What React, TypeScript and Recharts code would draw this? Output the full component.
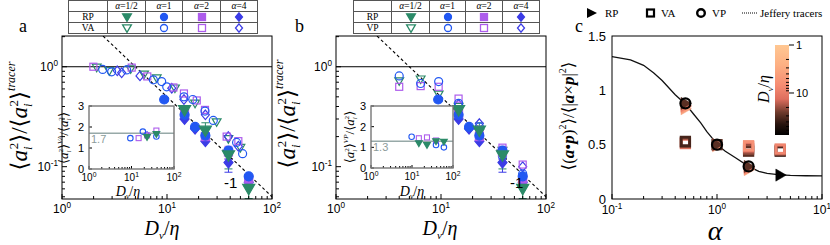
import React from 'react';
import { ScatterChart, Scatter, XAxis, YAxis, ReferenceLine, ReferenceArea, ErrorBar } from 'recharts';

const SANS = "'Liberation Sans', Arial, Helvetica, sans-serif";
const SERIF = "'Liberation Serif', 'Times New Roman', 'DejaVu Serif', serif";

const GREEN = '#2b8a68';
const BLUE = '#2258f2';
const PURPLE = '#ad5cec';
const VIOLET = '#3c3ce6';

// ---------- axes ----------
const MAIN_X_TICKS = [1, 2, 3, 4, 5, 6, 7, 8, 9, 10, 20, 30, 40, 50, 60, 70, 80, 90, 100];
const MAIN_Y_TICKS = [0.05, 0.06, 0.07, 0.08, 0.09, 0.1, 0.2, 0.3, 0.4, 0.5, 0.6, 0.7, 0.8, 0.9, 1, 2];
const MAIN_Y_DOMAIN = [0.0475, 2.03];
const INSET_Y_TICKS = [0, 1, 2, 3];
const C_X_TICKS = [0.1, 0.2, 0.3, 0.4, 0.5, 0.6, 0.7, 0.8, 0.9, 1, 2, 3, 4, 5, 6, 7, 8, 9, 10];
const C_Y_TICKS = [0, 0.5, 1, 1.5];
const CB_TICKS = [1, 2, 3, 4, 5, 6, 7, 8, 9, 10, 20, 30, 40, 50, 60, 70];

// ---------- guide line slope -1 ----------
const GUIDE_X = [2.46, 100];
const GUIDE_Y = [2.03, 0.05];

// ---------- RP (filled) ----------
const RP_D = [9.4, 14.7, 18.5, 23.2, 38.5, 60];
const RP_HALF = [null, 0.37, null, 0.23, 0.13, 0.06];
const RP_HALF_ERR_LO = [0, 0.03, 0, 0.025, 0.035, 0.012];
const RP_HALF_ERR_HI = [0, 0.03, 0, 0.045, 0.02, 0.012];
const RP_ONE = [0.47, 0.33, 0.25, 0.205, 0.145, 0.08];
const RP_TWO = [null, 0.34, null, 0.2, 0.14, 0.075];
const RP_TWO_ERR = [0, 0, 0, 0, 0.02, 0];
const RP_FOUR = [null, 0.3, 0.24, 0.18, 0.11, 0.07];
const RP_FOUR_ERR = [0, 0, 0, 0, 0.022, 0];

// ---------- VA (open, panel a) ----------
const VA_HALF_D = [2.14, 2.82, 4.51, 6.04, 7.98, 11.9, 18.5, 29.7, 38.4, 50];
const VA_HALF = [0.985, 0.91, 0.95, 0.84, 0.77, 0.61, 0.43, 0.28, 0.19, 0.155];
const VA_ONE_D = [2.44, 2.97, 4.13, 7.41, 8.9, 9.94, 14.5, 17.6, 23, 27.6, 46, 52.5];
const VA_ONE = [0.94, 0.89, 0.93, 0.74, 0.71, 0.63, 0.5, 0.47, 0.36, 0.29, 0.175, 0.135];
const VA_TWO_D = [1.99, 4.61, 6.49, 11.5, 14.5, 19.2, 23, 37, 47.8];
const VA_TWO = [1.0, 0.98, 0.8, 0.62, 0.54, 0.46, 0.37, 0.2, 0.18];
const VA_FOUR_D = [3.36, 3.7, 5.53, 11.1, 14.5, 23.2, 38.4, 47.8];
const VA_FOUR = [0.91, 0.87, 0.81, 0.61, 0.47, 0.33, 0.2, 0.16];

// ---------- VP (open, panel b) ----------
const VP_D = [4.0, 6.4, 9.5, 14.7, 23.2, 38.5, 60];
const VP_HALF = [0.72, 0.75, 0.53, 0.4, 0.22, 0.145, null];
const VP_ONE = [0.81, 0.68, 0.71, 0.43, 0.25, 0.128, 0.085];
const VP_TWO = [0.63, 0.64, 0.63, 0.48, 0.235, 0.155, 0.105];
const VP_FOUR = [null, null, null, 0.42, 0.27, null, 0.1];

// ---------- insets ----------
const INA_ONE_D = [9.4, 18.5, 38.5];
const INA_ONE = [1.47, 1.78, 1.55];
const INA_TWO_D = [14.7, 23.2, 38.5];
const INA_TWO = [1.47, 1.6, 1.83];
const INA_HALF_D = [23.2, 38.5];
const INA_HALF = [1.52, 1.67];
const INA_FOUR_D = [23.2];
const INA_FOUR = [1.65];
const INA_REF = 1.7;

const INB_ONE_D = [9.8, 38.5, 60];
const INB_ONE = [1.51, 1.11, 1.0];
const INB_TWO_D = [14.7, 23.2, 38.5];
const INB_TWO = [1.44, 1.48, 1.33];
const INB_HALF_D = [14.7, 23.2, 38.5, 60];
const INB_HALF = [1.2, 1.11, 1.3, 1.27];
const INB_REF = 1.3;

// ---------- panel c ----------
const JEF_ALPHA = [0.1, 0.15, 0.2, 0.25, 0.3, 0.4, 0.5, 0.6, 0.7, 0.8, 0.9, 1, 1.2, 1.5, 2, 2.5, 3, 4, 5, 7, 10];
const JEF_VAL = [1.31, 1.28, 1.23, 1.16, 1.09, 0.96, 0.875, 0.78, 0.7, 0.62, 0.56, 0.5, 0.44, 0.38, 0.3, 0.255, 0.235, 0.222, 0.217, 0.214, 0.212];

const C_RP_ALPHA = [0.5, 0.5, 0.5, 0.5, 1, 1, 1, 2, 2, 2, 2, 4];
const C_RP_VAL = [0.83, 0.85, 0.86, 0.88, 0.49, 0.5, 0.5, 0.27, 0.28, 0.29, 0.3, 0.22];
const C_RP_D = [4, 6, 10, 30, 4, 8, 30, 4, 6, 12, 30, 75];

const C_VA_ALPHA = [0.5, 0.5, 0.5, 1, 2, 2, 2, 2, 4, 4, 4];
const C_VA_VAL = [0.51, 0.52, 0.53, 0.5, 0.44, 0.46, 0.48, 0.49, 0.44, 0.45, 0.46];
const C_VA_D = [10, 22, 35, 30, 30, 20, 12, 6, 40, 20, 8];

const C_VP_ALPHA = [0.5, 1, 2];
const C_VP_VAL = [0.88, 0.5, 0.3];
const C_VP_D = [75, 75, 75];

const CB_DOMAIN = [1, 75];
const CMAP_STOPS: [number, string][] = [
  [0, '#ffc792'],
  [0.22, '#fdb083'],
  [0.45, '#f58b72'],
  [0.6, '#de6e5e'],
  [0.75, '#6e3a2c'],
  [0.88, '#28140e'],
  [1, '#000000'],
];

// ---------- helpers ----------
function hex(c: string) {
  return [1, 3, 5].map((i) => parseInt(c.slice(i, i + 2), 16));
}
function cmap(D: number) {
  let t = Math.log10(D) / Math.log10(CB_DOMAIN[1]);
  t = Math.max(0, Math.min(1, t));
  for (let i = 0; i < CMAP_STOPS.length - 1; i++) {
    const [t0, c0] = CMAP_STOPS[i];
    const [t1, c1] = CMAP_STOPS[i + 1];
    if (t <= t1) {
      const f = (t - t0) / (t1 - t0);
      const a = hex(c0);
      const b = hex(c1);
      const m = a.map((v, k) => Math.round(v + (b[k] - v) * f));
      return `rgb(${m[0]},${m[1]},${m[2]})`;
    }
  }
  return '#000';
}

function pts(xs: number[], ys: (number | null)[], extra?: (i: number) => any) {
  const out: any[] = [];
  xs.forEach((x, i) => {
    const y = ys[i];
    if (y == null) return;
    out.push({ x, y, ...(extra ? extra(i) : {}) });
  });
  return out;
}

const noShape = () => <g />;

function mk(kind: string, color: string, filled: boolean, size: number, sw = 1.2) {
  return (p: any) => {
    const cx = p.cx;
    const cy = p.cy;
    if (typeof cx !== 'number' || typeof cy !== 'number' || isNaN(cx) || isNaN(cy)) return <g />;
    const c = (p.payload && p.payload.col) || color;
    const s = size / 2;
    const st = { fill: filled ? c : 'none', stroke: c, strokeWidth: sw };
    if (kind === 'circ') return <circle cx={cx} cy={cy} r={s} {...st} />;
    if (kind === 'sq') return <rect x={cx - s} y={cy - s} width={2 * s} height={2 * s} {...st} />;
    if (kind === 'dia')
      return <polygon points={`${cx},${cy - s * 1.2} ${cx + s},${cy} ${cx},${cy + s * 1.2} ${cx - s},${cy}`} {...st} />;
    if (kind === 'tri')
      return <polygon points={`${cx - s * 1.1},${cy - s * 0.8} ${cx + s * 1.1},${cy - s * 0.8} ${cx},${cy + s * 1.1}`} {...st} />;
    return <polygon points={`${cx - s * 0.8},${cy - s * 1.1} ${cx + s * 1.1},${cy} ${cx - s * 0.8},${cy + s * 1.1}`} {...st} />;
  };
}

function isDec(v: number) {
  const l = Math.log10(v);
  return Math.abs(l - Math.round(l)) < 1e-9;
}

const logBottom = (fs: number, maj: number, mn: number, dyl: number) => (p: any) => {
  const { x, y, payload } = p;
  const v = payload.value;
  const d = isDec(v);
  const e = Math.round(Math.log10(v));
  return (
    <g>
      <line x1={x} x2={x} y1={y} y2={y - (d ? maj : mn)} stroke="#000" strokeWidth={1} />
      {d && (
        <text x={x} y={y + dyl} textAnchor="middle" fontFamily={SANS} fontSize={fs} fill="#000">
          10
          <tspan fontSize={fs * 0.68} dy={-fs * 0.42}>
            {e}
          </tspan>
        </text>
      )}
    </g>
  );
};

const logLeft = (fs: number, maj: number, mn: number) => (p: any) => {
  const { x, y, payload } = p;
  const v = payload.value;
  const d = isDec(v);
  const e = Math.round(Math.log10(v));
  return (
    <g>
      <line x1={x} x2={x + (d ? maj : mn)} y1={y} y2={y} stroke="#000" strokeWidth={1} />
      {d && (
        <text x={x - 4} y={y + fs * 0.36} textAnchor="end" fontFamily={SANS} fontSize={fs} fill="#000">
          10
          <tspan fontSize={fs * 0.68} dy={-fs * 0.42}>
            {e}
          </tspan>
        </text>
      )}
    </g>
  );
};

const linLeft = (fs: number, len: number, gap: number) => (p: any) => {
  const { x, y, payload } = p;
  return (
    <g>
      <line x1={x} x2={x + len} y1={y} y2={y} stroke="#000" strokeWidth={1} />
      <text x={x - gap} y={y + fs * 0.36} textAnchor="end" fontFamily={SANS} fontSize={fs} fill="#000">
        {String(payload.value)}
      </text>
    </g>
  );
};

const cbTick = (p: any) => {
  const { x, y, payload } = p;
  const v = payload.value;
  const major = v === 1 || v === 10;
  return (
    <g>
      <line x1={x - (major ? 0 : 3)} x2={x + (major ? 5 : 0)} y1={y} y2={y} stroke="#000" strokeWidth={1} />
      {major && (
        <text x={x + 7} y={y + 4} fontFamily={SANS} fontSize={11} fill="#000">
          {v}
        </text>
      )}
    </g>
  );
};

// ---------- boxes ----------
const BOX_A = [62, 36, 272, 199];
const BOX_B = [336, 36, 546, 199];
const BOX_C = [612, 36, 822, 199];
const INSET_A = [89, 106, 174, 169];
const INSET_B = [371, 106, 453, 168];

function MainPanel({ box, series }: any) {
  const [x0, y0, x1, y1] = box;
  const YW = 50;
  const XH = 30;
  const MT = 10;
  const MR = 22;
  const guide = pts(GUIDE_X, GUIDE_Y);
  return (
    <div style={{ position: 'absolute', left: x0 - YW, top: y0 - MT }}>
      <ScatterChart width={x1 - x0 + YW + MR} height={y1 - y0 + MT + XH} margin={{ top: MT, right: MR, bottom: 0, left: 0 }}>
        <XAxis type="number" dataKey="x" scale="log" domain={[1, 100]} allowDataOverflow ticks={MAIN_X_TICKS} interval={0}
          tickSize={0} tickMargin={0} axisLine={false} tickLine={false} tick={logBottom(12, 5, 3, 14)} height={XH} />
        <YAxis type="number" dataKey="y" scale="log" domain={MAIN_Y_DOMAIN} allowDataOverflow ticks={MAIN_Y_TICKS} interval={0}
          tickSize={0} tickMargin={0} axisLine={false} tickLine={false} tick={logLeft(12, 5, 3)} width={YW} />
        <ReferenceLine y={1} stroke="#000" strokeWidth={1} />
        <Scatter data={guide} line={{ stroke: '#000', strokeWidth: 1.1, strokeDasharray: '3 2.5' }} shape={noShape} isAnimationActive={false} />
        {series.map((s: any, i: number) => (
          <Scatter key={i} data={s.data} shape={s.shape} isAnimationActive={false}>
            {s.err ? <ErrorBar dataKey="e" direction="y" width={4} stroke={s.err} strokeWidth={1} /> : null}
          </Scatter>
        ))}
      </ScatterChart>
    </div>
  );
}

function InsetPanel({ box, series, refY }: any) {
  const [x0, y0, x1, y1] = box;
  const YW = 18;
  const XH = 24;
  const MT = 8;
  const MR = 12;
  return (
    <>
      <div style={{ position: 'absolute', left: x0, top: y0, width: x1 - x0, height: y1 - y0, background: '#fff' }} />
      <div style={{ position: 'absolute', left: x0 - YW, top: y0 - MT }}>
        <ScatterChart width={x1 - x0 + YW + MR} height={y1 - y0 + MT + XH} margin={{ top: MT, right: MR, bottom: 0, left: 0 }}>
          <XAxis type="number" dataKey="x" scale="log" domain={[1, 100]} allowDataOverflow ticks={MAIN_X_TICKS} interval={0}
            tickSize={0} tickMargin={0} axisLine={false} tickLine={false} tick={logBottom(10, 3, 2, 12)} height={XH} />
          <YAxis type="number" dataKey="y" domain={[0, 3]} allowDataOverflow ticks={INSET_Y_TICKS} interval={0}
            tickSize={0} tickMargin={0} axisLine={false} tickLine={false} tick={linLeft(11, 3, 5)} width={YW} />
          <ReferenceLine y={refY} stroke="#97a9a8" strokeWidth={1.5}
            label={{ value: String(refY), position: 'insideTopLeft', fill: '#8c9c9b', fontSize: 11, fontFamily: SANS, offset: 2 }} />
          {series.map((s: any, i: number) => (
            <Scatter key={i} data={s.data} shape={s.shape} isAnimationActive={false} />
          ))}
        </ScatterChart>
      </div>
    </>
  );
}

function PanelC() {
  const [x0, y0, x1, y1] = BOX_C;
  const YW = 50;
  const XH = 30;
  const MT = 10;
  const MR = 22;
  const jef = pts(JEF_ALPHA, JEF_VAL);
  const rp = pts(C_RP_ALPHA, C_RP_VAL, (i) => ({ col: cmap(C_RP_D[i]) }));
  const va = pts(C_VA_ALPHA, C_VA_VAL, (i) => ({ col: cmap(C_VA_D[i]) }));
  const vp = pts(C_VP_ALPHA, C_VP_VAL, (i) => ({ col: cmap(C_VP_D[i]) }));
  return (
    <div style={{ position: 'absolute', left: x0 - YW, top: y0 - MT }}>
      <ScatterChart width={x1 - x0 + YW + MR} height={y1 - y0 + MT + XH} margin={{ top: MT, right: MR, bottom: 0, left: 0 }}>
        <XAxis type="number" dataKey="x" scale="log" domain={[0.1, 10]} allowDataOverflow ticks={C_X_TICKS} interval={0}
          tickSize={0} tickMargin={0} axisLine={false} tickLine={false} tick={logBottom(12, 5, 3, 15)} height={XH} />
        <YAxis type="number" dataKey="y" domain={[0, 1.5]} allowDataOverflow ticks={C_Y_TICKS} interval={0}
          tickSize={0} tickMargin={0} axisLine={false} tickLine={false} tick={linLeft(13, 0, 6)} width={YW} />
        <Scatter data={jef} line={{ stroke: '#111', strokeWidth: 1.3 }} shape={noShape} isAnimationActive={false} />
        <Scatter data={va} shape={mk('sq', '#000', false, 8.5, 2.8)} isAnimationActive={false} />
        <Scatter data={rp} shape={mk('rtri', '#000', true, 11, 0.5)} isAnimationActive={false} />
        <Scatter data={vp} shape={mk('circ', '#000', false, 10, 2.2)} isAnimationActive={false} />
      </ScatterChart>
    </div>
  );
}

function ColorBar() {
  const x0 = 775;
  const x1 = 789;
  const y0 = 45;
  const y1 = 135;
  const MT = 8;
  const stops = CMAP_STOPS;
  return (
    <div style={{ position: 'absolute', left: x0, top: y0 - MT }}>
      <ScatterChart width={x1 - x0 + 30} height={y1 - y0 + MT + 8} margin={{ top: MT, right: 0, bottom: 8, left: 0 }}>
        <defs>
          <linearGradient id="cbgrad" x1="0" y1="0" x2="0" y2="1">
            {stops.map(([t, c], i) => (
              <stop key={i} offset={t} stopColor={c} />
            ))}
          </linearGradient>
        </defs>
        <XAxis type="number" dataKey="x" domain={[0, 1]} hide />
        <YAxis type="number" dataKey="y" scale="log" domain={CB_DOMAIN} reversed orientation="right" ticks={CB_TICKS} interval={0}
          tickSize={0} tickMargin={0} axisLine={false} tickLine={false} tick={cbTick} width={30} />
        <ReferenceArea x1={0} x2={1} y1={CB_DOMAIN[0]} y2={CB_DOMAIN[1]} fill="url(#cbgrad)" fillOpacity={1} stroke="none" ifOverflow="visible" />
        <Scatter data={[{ x: 0.5, y: 5 }]} shape={noShape} isAnimationActive={false} />
      </ScatterChart>
    </div>
  );
}

const KEY = [
  ['tri', GREEN],
  ['circ', BLUE],
  ['sq', PURPLE],
  ['dia', VIOLET],
];
const HEADS = ['1/2', '1', '2', '4'];

function KeyMark({ kind, color, filled }: any) {
  const size = kind === 'tri' ? 8 : 7;
  const f = mk(kind, color, filled, size, 1.3);
  return (
    <svg width={12} height={10} style={{ display: 'block', margin: '0 auto' }}>
      {f({ cx: 6, cy: 5 })}
    </svg>
  );
}

function KeyTable({ left, widths, second }: any) {
  const total = widths.reduce((a: number, b: number) => a + b, 0);
  const cell = (w: number) => ({
    width: w,
    height: 10,
    border: '1px solid #555',
    padding: 0,
    textAlign: 'center' as const,
    verticalAlign: 'middle' as const,
    lineHeight: '10px',
  });
  return (
    <table style={{ position: 'absolute', left, top: 0, borderCollapse: 'collapse', tableLayout: 'fixed', width: total, fontFamily: SERIF, fontSize: 9.5, color: '#000' }}>
      <tbody>
        <tr>
          <td style={cell(widths[0])}></td>
          {HEADS.map((h, i) => (
            <td key={i} style={cell(widths[i + 1])}>
              <span style={{ fontStyle: 'italic' }}>α</span>={h}
            </td>
          ))}
        </tr>
        <tr>
          <td style={cell(widths[0])}>RP</td>
          {KEY.map(([k, c], i) => (
            <td key={i} style={cell(widths[i + 1])}>
              <KeyMark kind={k} color={c} filled />
            </td>
          ))}
        </tr>
        <tr>
          <td style={cell(widths[0])}>{second}</td>
          {KEY.map(([k, c], i) => (
            <td key={i} style={cell(widths[i + 1])}>
              <KeyMark kind={k} color={c} filled={false} />
            </td>
          ))}
        </tr>
      </tbody>
    </table>
  );
}

function AccLabel({ cx, cy, fs, sup }: any) {
  const s = fs * 0.55;
  return (
    <text transform={`translate(${cx},${cy}) rotate(-90)`} x={0} y={fs * 0.3} textAnchor="middle" fontFamily={SERIF} fontSize={fs} fill="#000">
      ⟨<tspan fontStyle="italic">a</tspan>
      <tspan fontSize={s} fontStyle="italic" dy={fs * 0.25}>i</tspan>
      <tspan fontSize={s} dx={-s * 0.3} dy={-fs * 0.6}>2</tspan>
      <tspan dy={fs * 0.35}>⟩</tspan>
      {sup ? <tspan fontSize={s} fontStyle="italic" dy={-fs * 0.45}>{sup}</tspan> : null}
      <tspan dy={sup ? fs * 0.45 : 0}>/⟨</tspan>
      <tspan fontStyle="italic">a</tspan>
      <tspan fontSize={s} fontStyle="italic" dy={fs * 0.25}>i</tspan>
      <tspan fontSize={s} dx={-s * 0.3} dy={-fs * 0.6}>2</tspan>
      <tspan dy={fs * 0.35}>⟩</tspan>
    </text>
  );
}

function MainYLabel({ cx, cy }: any) {
  const fs = 23;
  const s = 13;
  return (
    <text transform={`translate(${cx},${cy}) rotate(-90)`} x={0} y={7} textAnchor="middle" fontFamily={SERIF} fontSize={fs} fill="#000">
      ⟨<tspan fontStyle="italic">a</tspan>
      <tspan fontSize={s} fontStyle="italic" dy={5}>i</tspan>
      <tspan fontSize={s} dx={-3} dy={-14}>2</tspan>
      <tspan dy={9}>⟩/⟨</tspan>
      <tspan fontStyle="italic">a</tspan>
      <tspan fontSize={s} fontStyle="italic" dy={5}>i</tspan>
      <tspan fontSize={s} dx={-3} dy={-14}>2</tspan>
      <tspan dy={9}>⟩</tspan>
      <tspan fontSize={12} fontStyle="italic" dy={-12}>tracer</tspan>
    </text>
  );
}

function DvLabel({ x, y, fs, rotate }: any) {
  const tr = rotate ? `translate(${x},${y}) rotate(-90)` : `translate(${x},${y})`;
  return (
    <text transform={tr} x={0} y={0} textAnchor="middle" fontFamily={SERIF} fontSize={fs} fill="#000" fontStyle="italic">
      D<tspan fontSize={fs * 0.55} dy={fs * 0.22}>v</tspan>
      <tspan dy={-fs * 0.22} fontStyle="normal">/</tspan>η
    </text>
  );
}

function Overlay() {
  const rect = (b: number[], stroke: string, sw: number) => (
    <rect x={b[0]} y={b[1]} width={b[2] - b[0]} height={b[3] - b[1]} fill="none" stroke={stroke} strokeWidth={sw} />
  );
  return (
    <svg width={830} height={245} style={{ position: 'absolute', left: 0, top: 0, pointerEvents: 'none' }}>
      {rect(BOX_A, '#000', 1)}
      {rect(BOX_B, '#000', 1)}
      {rect(BOX_C, '#000', 1)}
      {rect(INSET_A, '#777', 1.4)}
      {rect(INSET_B, '#777', 1.4)}

      {/* panel letters */}
      <text x={19} y={32} fontFamily={SERIF} fontSize={18} fill="#000">a</text>
      <text x={295} y={32} fontFamily={SERIF} fontSize={18} fill="#000">b</text>
      <text x={575} y={32} fontFamily={SERIF} fontSize={18} fill="#000">c</text>

      {/* main y labels */}
      <MainYLabel cx={20} cy={116} />
      <MainYLabel cx={288} cy={114} />

      {/* x labels */}
      <DvLabel x={162} y={235} fs={20} />
      <DvLabel x={440} y={235} fs={20} />
      <DvLabel x={128} y={196} fs={14} />
      <DvLabel x={412} y={196} fs={14} />
      <DvLabel x={769} y={89} fs={16} rotate />

      {/* inset y labels */}
      <AccLabel cx={64} cy={138} fs={13} sup="VA" />
      <AccLabel cx={350} cy={137} fs={13} sup="VP" />

      {/* slope labels */}
      <text x={224} y={188} fontFamily={SANS} fontSize={15} fill="#000">-1</text>
      <text x={510} y={188} fontFamily={SANS} fontSize={15} fill="#000">-1</text>

      {/* panel c y label */}
      <text transform="translate(568,116) rotate(-90)" x={0} y={6} textAnchor="middle" fontFamily={SERIF} fontSize={17} fill="#000">
        ⟨(<tspan fontWeight="bold" fontStyle="italic">a</tspan>•<tspan fontWeight="bold" fontStyle="italic">p</tspan>)
        <tspan fontSize={10} dy={-8}>2</tspan>
        <tspan dy={8}>⟩/⟨|</tspan>
        <tspan fontWeight="bold" fontStyle="italic">a</tspan>×<tspan fontWeight="bold" fontStyle="italic">p</tspan>|
        <tspan fontSize={10} dy={-8}>2</tspan>
        <tspan dy={8}>⟩</tspan>
      </text>
      <text x={715} y={240} textAnchor="middle" fontFamily={SERIF} fontSize={28} fontStyle="italic" fill="#000">α</text>

      {/* panel c legend */}
      <polygon points="587,8 597,13 587,18" fill="#000" />
      <text x={605} y={17} fontFamily={SERIF} fontSize={11} fill="#000">RP</text>
      <rect x={647} y={9.5} width={7} height={7} fill="none" stroke="#000" strokeWidth={2.2} />
      <text x={661} y={17} fontFamily={SERIF} fontSize={11} fill="#000">VA</text>
      <circle cx={701} cy={13} r={3.8} fill="none" stroke="#000" strokeWidth={2.4} />
      <text x={712} y={17} fontFamily={SERIF} fontSize={11} fill="#000">VP</text>
      <line x1={742} x2={757} y1={13} y2={13} stroke="#000" strokeWidth={1} strokeDasharray="1 1" />
      <text x={760} y={17} fontFamily={SERIF} fontSize={11} fill="#000">Jeffery tracers</text>
    </svg>
  );
}

export default function App() {
  const seriesA = [
    { data: pts(VA_HALF_D, VA_HALF), shape: mk('tri', GREEN, false, 8, 1.2) },
    { data: pts(VA_FOUR_D, VA_FOUR), shape: mk('dia', VIOLET, false, 8, 1.2) },
    { data: pts(VA_TWO_D, VA_TWO), shape: mk('sq', PURPLE, false, 7, 1.2) },
    { data: pts(VA_ONE_D, VA_ONE), shape: mk('circ', BLUE, false, 8, 1.2) },
    { data: pts(RP_D, RP_FOUR, (i) => ({ e: [RP_FOUR_ERR[i], RP_FOUR_ERR[i] * 0.4] })), shape: mk('dia', VIOLET, true, 9), err: VIOLET },
    { data: pts(RP_D, RP_TWO, (i) => ({ e: [RP_TWO_ERR[i], RP_TWO_ERR[i]] })), shape: mk('sq', PURPLE, true, 8), err: PURPLE },
    { data: pts(RP_D, RP_ONE), shape: mk('circ', BLUE, true, 9) },
    { data: pts(RP_D, RP_HALF, (i) => ({ e: [RP_HALF_ERR_LO[i], RP_HALF_ERR_HI[i]] })), shape: mk('tri', GREEN, true, 11), err: GREEN },
  ];
  const seriesB = [
    { data: pts(VP_D, VP_HALF), shape: mk('tri', GREEN, false, 8, 1.2) },
    { data: pts(VP_D, VP_FOUR), shape: mk('dia', VIOLET, false, 8, 1.2) },
    { data: pts(VP_D, VP_TWO), shape: mk('sq', PURPLE, false, 7, 1.2) },
    { data: pts(VP_D, VP_ONE), shape: mk('circ', BLUE, false, 8, 1.2) },
    { data: pts(RP_D, RP_FOUR, (i) => ({ e: [RP_FOUR_ERR[i], RP_FOUR_ERR[i] * 0.4] })), shape: mk('dia', VIOLET, true, 9), err: VIOLET },
    { data: pts(RP_D, RP_TWO, (i) => ({ e: [RP_TWO_ERR[i], RP_TWO_ERR[i]] })), shape: mk('sq', PURPLE, true, 8), err: PURPLE },
    { data: pts(RP_D, RP_ONE), shape: mk('circ', BLUE, true, 9) },
    { data: pts(RP_D, RP_HALF, (i) => ({ e: [RP_HALF_ERR_LO[i], RP_HALF_ERR_HI[i]] })), shape: mk('tri', GREEN, true, 11), err: GREEN },
  ];
  const insetA = [
    { data: pts(INA_FOUR_D, INA_FOUR), shape: mk('dia', VIOLET, false, 5, 1) },
    { data: pts(INA_TWO_D, INA_TWO), shape: mk('sq', PURPLE, false, 5, 1.1) },
    { data: pts(INA_ONE_D, INA_ONE), shape: mk('circ', BLUE, false, 5.5, 1.1) },
    { data: pts(INA_HALF_D, INA_HALF), shape: mk('tri', GREEN, true, 6) },
  ];
  const insetB = [
    { data: pts(INB_TWO_D, INB_TWO), shape: mk('sq', PURPLE, false, 5, 1.1) },
    { data: pts(INB_ONE_D, INB_ONE), shape: mk('circ', BLUE, false, 5.5, 1.1) },
    { data: pts(INB_HALF_D, INB_HALF), shape: mk('tri', GREEN, true, 6) },
  ];
  return (
    <div style={{ position: 'absolute', left: 0, top: 0, width: 830, height: 245, background: '#fff', overflow: 'hidden' }}>
      <MainPanel box={BOX_A} series={seriesA} />
      <MainPanel box={BOX_B} series={seriesB} />
      <PanelC />
      <ColorBar />
      <InsetPanel box={INSET_A} series={insetA} refY={INA_REF} />
      <InsetPanel box={INSET_B} series={insetB} refY={INB_REF} />
      <KeyTable left={68} widths={[38, 37, 36, 37, 36]} second="VA" />
      <KeyTable left={353} widths={[37, 37, 35, 36, 36]} second="VP" />
      <Overlay />
    </div>
  );
}
